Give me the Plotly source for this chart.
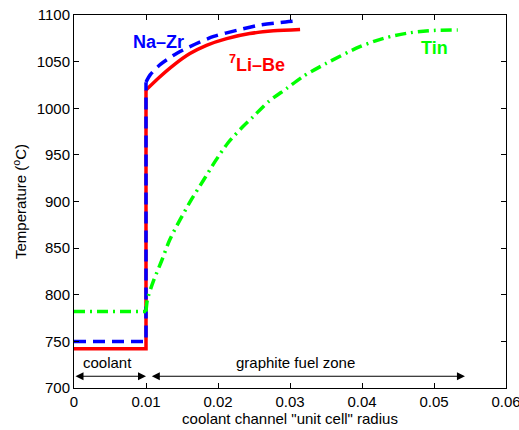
import plotly.graph_objects as go

# ---- data ----
libe_step_x = [0, 0.01, 0.01]
libe_step_y = [742, 742, 1019.5]
libe_x = [0.01, 0.0119, 0.0138, 0.0161, 0.0184, 0.0212, 0.0244, 0.0277, 0.0314]
libe_y = [1019.5, 1033.5, 1046, 1058.6, 1067.5, 1074.7, 1080.1, 1083, 1084.5]

nazr_step_x = [0, 0.01, 0.01]
nazr_step_y = [750, 750, 1028]
nazr_x = [0.01, 0.0106, 0.0120, 0.0143, 0.0168, 0.0194, 0.0227, 0.0257, 0.0287, 0.0313]
nazr_y = [1028, 1036, 1047, 1059, 1068.6, 1077, 1083.7, 1089, 1092, 1094]

tin_step_x = [0, 0.01]
tin_step_y = [782, 782]
tin_x = [0.01, 0.0102, 0.011, 0.0122, 0.0133, 0.0147, 0.0163, 0.018, 0.0196, 0.0214,
         0.0233, 0.0249, 0.027, 0.0295, 0.0318, 0.035, 0.0397, 0.043, 0.0467, 0.050, 0.0533]
tin_y = [782, 795, 814, 837, 859, 880, 902, 923, 943, 963,
         979, 991, 1007, 1021, 1034, 1048, 1066, 1075, 1081, 1083.5, 1084]

x_ticks = [0, 0.01, 0.02, 0.03, 0.04, 0.05, 0.06]
x_tick_labels = ["0", "0.01", "0.02", "0.03", "0.04", "0.05", "0.06"]
y_ticks = [700, 750, 800, 850, 900, 950, 1000, 1050, 1100]

FONT = "Liberation Sans, Arial, Helvetica, sans-serif"
RED, BLUE, GREEN = "#ff0000", "#0000ff", "#00ff00"
W = 3.5

fig = go.Figure()
fig.add_trace(go.Scatter(x=libe_step_x, y=libe_step_y, mode="lines",
                         line=dict(color=RED, width=W)))
fig.add_trace(go.Scatter(x=libe_x, y=libe_y, mode="lines",
                         line=dict(color=RED, width=W, shape="spline", smoothing=0.8)))
fig.add_trace(go.Scatter(x=nazr_step_x, y=nazr_step_y, mode="lines",
                         line=dict(color=BLUE, width=W, dash="12px,7px")))
fig.add_trace(go.Scatter(x=nazr_x, y=nazr_y, mode="lines",
                         line=dict(color=BLUE, width=W, dash="12px,7px", shape="spline", smoothing=0.8)))
fig.add_trace(go.Scatter(x=tin_step_x, y=tin_step_y, mode="lines",
                         line=dict(color=GREEN, width=W, dash="11px,5px,2px,5px")))
fig.add_trace(go.Scatter(x=tin_x, y=tin_y, mode="lines",
                         line=dict(color=GREEN, width=W, dash="11px,5px,2px,5px", shape="spline", smoothing=0.8)))

# labels
fig.add_annotation(x=0.0118, y=1071.5, text="<b>Na–Zr</b>", showarrow=False,
                   font=dict(color=BLUE, size=18, family=FONT))
fig.add_annotation(x=0.02535, y=1048, text="<b><sup>7</sup>Li–Be</b>", showarrow=False,
                   font=dict(color=RED, size=18, family=FONT))
fig.add_annotation(x=0.0501, y=1065, text="<b>Tin</b>", showarrow=False,
                   font=dict(color=GREEN, size=18, family=FONT))
fig.add_annotation(x=0.00472, y=727.4, text="coolant", showarrow=False,
                   font=dict(color="black", size=15, family=FONT))
fig.add_annotation(x=0.0307, y=727.4, text="graphite fuel zone", showarrow=False,
                   font=dict(color="black", size=15, family=FONT))

# double arrows
for (x0, x1) in [(0.0, 0.01), (0.0106, 0.0543)]:
    fig.add_annotation(x=x1, y=712.6, ax=x0, ay=712.6, xref="x", yref="y",
                       axref="x", ayref="y", text="", showarrow=True,
                       arrowhead=2, startarrowhead=2, arrowside="end+start",
                       arrowsize=1.6, startarrowsize=1.6, arrowwidth=1, arrowcolor="black",
                       standoff=0, startstandoff=0)

fig.update_layout(
    width=519, height=430,
    margin=dict(l=74, r=13, t=15, b=42),
    paper_bgcolor="white", plot_bgcolor="white",
    showlegend=False,
    font=dict(family=FONT, size=15, color="black"),
)
fig.update_xaxes(range=[0, 0.06], tickvals=x_ticks, ticktext=x_tick_labels,
                 automargin=False, ticklabeloverflow="allow",
                 showgrid=False, zeroline=False, showline=True, linecolor="black", linewidth=1,
                 mirror="ticks", ticks="inside", ticklen=5, tickcolor="black",
                 title=dict(text='coolant channel "unit cell" radius', standoff=4,
                            font=dict(size=15)),
                 tickfont=dict(size=15))
fig.update_yaxes(range=[700, 1100], tickvals=y_ticks,
                 automargin=False, ticklabeloverflow="allow",
                 showgrid=False, zeroline=False, showline=True, linecolor="black", linewidth=1,
                 mirror="ticks", ticks="inside", ticklen=5, tickcolor="black",
                 title=dict(text="Temperature (<sup>o</sup>C)", standoff=6, font=dict(size=15)),
                 tickfont=dict(size=15))

fig.write_html("out.html", config={"displayModeBar": False},
               post_script="document.body.style.margin='0';document.body.style.overflow='hidden';")
